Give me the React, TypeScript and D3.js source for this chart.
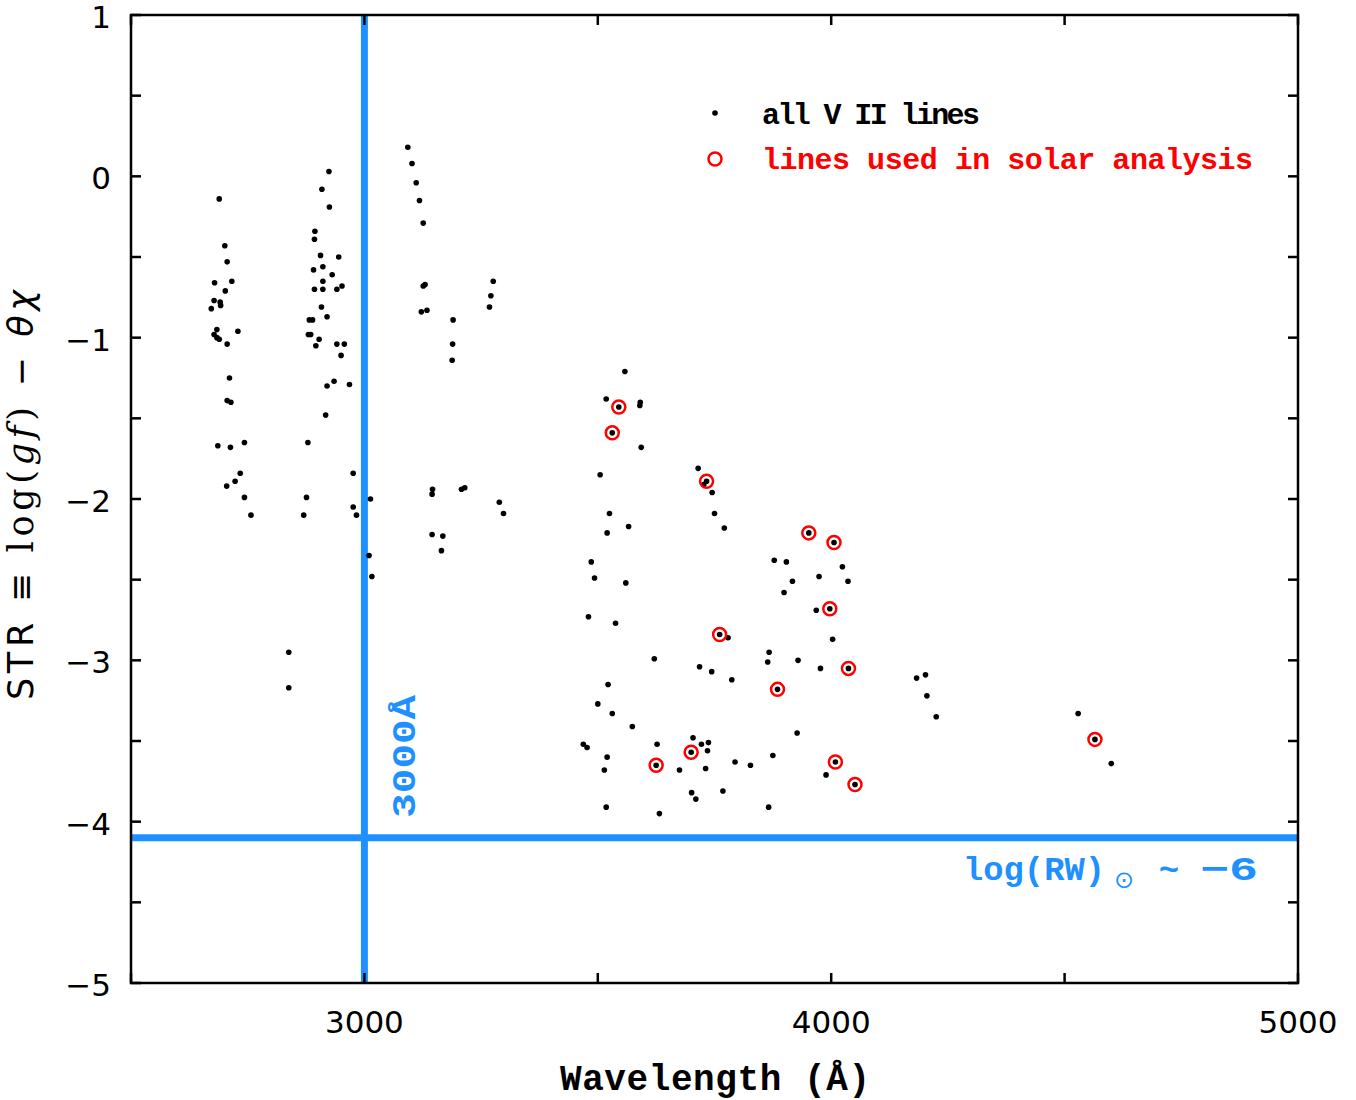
import React from "react";
import * as d3 from "d3";

// ---- data ----
const allWave = [
  2689, 2701, 2706, 2679, 2716, 2702, 2678, 2691, 2692, 2672, 2684, 2678, 2689, 2684, 2729, 2706, 2711, 2706, 2714, 2686, 2713, 2743, 2734, 2723, 2705, 2743, 2757,
  2924, 2909, 2925, 2894, 2893, 2906, 2945, 2891, 2911, 2931, 2911, 2893, 2911, 2941, 2952, 2908, 2920, 2882, 2889, 2880, 2885, 2903, 2896, 2941, 2957, 2950, 2935, 2920, 2968, 2917, 2879, 2976, 2876, 2870, 2976, 2983, 3013, 3010, 3016, 2838, 2838,
  3093, 3102, 3111, 3118, 3126, 3130, 3126, 3122, 3134, 3190, 3189, 3188, 3276, 3271, 3268, 3146, 3145, 3208, 3215, 3289, 3298, 3145, 3168, 3165,
  3558, 3518, 3545, 3591, 3590, 3531, 3593, 3505, 3525, 3566, 3520, 3486, 3493, 3560, 3715, 3733, 3727, 3745, 3750, 3771,
  3480, 3538, 3761, 3779, 3621, 3718, 3744, 3787, 3522, 3500, 3531, 3574, 3469, 3477, 3627, 3704, 3722, 3737, 3700, 3735, 3520, 3514, 3625, 3675, 3731, 3794, 3827, 3701, 3768, 3710, 3518, 3632,
  3952, 4006, 3878, 3904, 4024, 3917, 3974, 4036, 3899, 3968, 3997, 4003, 3867, 3864, 3929, 3977, 4037, 3885, 4183, 3927, 3875, 4009, 3989, 4051, 3866,
  4202, 4205, 4225, 4529, 4565, 4600,
];
const allStr = [
  -0.14, -0.43, -0.53, -0.66, -0.65, -0.71, -0.77, -0.78, -0.8, -0.82, -0.95, -0.98, -1.01, -1.0, -0.96, -1.04, -1.25, -1.39, -1.4, -1.67, -1.68, -1.65, -1.84, -1.89, -1.92, -1.99, -2.1,
  0.03, -0.08, -0.19, -0.34, -0.39, -0.49, -0.5, -0.58, -0.56, -0.61, -0.65, -0.7, -0.7, -0.7, -0.68, -0.81, -0.87, -0.89, -0.89, -0.98, -0.98, -1.01, -1.05, -1.04, -1.04, -1.11, -1.27, -1.3, -1.29, -1.48, -1.65, -1.84, -1.99, -2.1, -2.05, -2.1, -2.0, -2.35, -2.48, -2.95, -3.17,
  0.18, 0.08, -0.04, -0.15, -0.29, -0.67, -0.68, -0.84, -0.83, -0.89, -1.04, -1.14, -0.65, -0.74, -0.81, -1.94, -1.97, -1.94, -1.93, -2.02, -2.09, -2.22, -2.23, -2.32,
  -1.21, -1.38, -1.43, -1.4, -1.42, -1.59, -1.68, -1.85, -2.09, -2.17, -2.21, -2.39, -2.49, -2.52, -1.81, -1.89, -1.91, -1.96, -2.09, -2.18,
  -2.73, -2.77, -2.84, -2.86, -2.99, -3.04, -3.07, -3.12, -3.15, -3.27, -3.33, -3.41, -3.52, -3.54, -3.52, -3.48, -3.52, -3.51, -3.57, -3.56, -3.6, -3.68, -3.65, -3.68, -3.67, -3.63, -3.65, -3.82, -3.81, -3.86, -3.91, -3.95,
  -2.21, -2.27, -2.38, -2.39, -2.42, -2.51, -2.48, -2.51, -2.58, -2.69, -2.68, -2.87, -2.95, -3.01, -3.0, -3.05, -3.05, -3.18, -3.11, -3.45, -3.59, -3.63, -3.71, -3.77, -3.91,
  -3.09, -3.22, -3.35, -3.33, -3.49, -3.64,
];
const solarWave = [3545, 3531, 3733, 3761, 3700, 3625, 3952, 4006, 3997, 4037, 3885, 4009, 4051, 4565];
const solarStr = [-1.43, -1.59, -1.89, -2.84, -3.57, -3.65, -2.21, -2.27, -2.68, -3.05, -3.18, -3.63, -3.77, -3.49];

const xDomain = [2500, 5000];
const yDomain = [-5, 1];
const xLabelTicks = [3000, 4000, 5000];
const xAllTicks = [2500, 3000, 3500, 4000, 4500, 5000];
const yLabelTicks = [1, 0, -1, -2, -3, -4, -5];
const yAllTicks = [1, 0.5, 0, -0.5, -1, -1.5, -2, -2.5, -3, -3.5, -4, -4.5, -5];
const cutWave = 3000;
const cutStr = -4.1;

const BLUE = "#1e90ff";
const RED = "#ff0000";
const MONO = "'Liberation Mono', 'DejaVu Sans Mono', monospace";
const SANS = "'DejaVu Sans', sans-serif";

export default function App() {
  const L = 131, R = 1298, T = 15, B = 983;
  const x = d3.scaleLinear().domain(xDomain).range([L, R]);
  const y = d3.scaleLinear().domain(yDomain).range([B, T]);
  const tickLen = 10;
  const fmt = (v: number) => (v < 0 ? "\u2212" + Math.abs(v) : String(v));
  const rwY = y(cutStr) + 42;

  return (
    <svg width={1356} height={1100} style={{ position: "absolute", left: 0, top: 0, background: "#fff" }}>
      {/* reference lines */}
      <line x1={x(cutWave)} x2={x(cutWave)} y1={T} y2={B} stroke={BLUE} strokeWidth={7} />
      <line x1={L} x2={R} y1={y(cutStr)} y2={y(cutStr)} stroke={BLUE} strokeWidth={7} />
      <text transform={`translate(${x(cutWave) + 51},${y(cutStr) - 20}) rotate(-90)`} fill={BLUE}
        fontFamily={MONO} fontWeight="bold" fontSize={34} textLength={123} lengthAdjust="spacingAndGlyphs">3000Å</text>
      <text x={963} y={rwY} fill={BLUE} fontFamily={MONO} fontWeight="bold" fontSize={34} textLength={142} lengthAdjust="spacingAndGlyphs">log(RW)</text>
      <text x={1124} y={rwY + 8} fill={BLUE} fontFamily={SANS} fontSize={24} textAnchor="middle">⊙</text>
      <text x={1169} y={rwY} fill={BLUE} fontFamily={MONO} fontWeight="bold" fontSize={34} textAnchor="middle">~</text>
      <text x={1200} y={rwY} fill={BLUE} fontFamily={MONO} fontWeight="bold" fontSize={34} textLength={58} lengthAdjust="spacingAndGlyphs">−6</text>

      {/* points */}
      {allWave.map((w, i) => (
        <circle key={"a" + i} cx={x(w)} cy={y(allStr[i])} r={2.8} fill="#000" />
      ))}
      {solarWave.map((w, i) => (
        <circle key={"s" + i} cx={x(w)} cy={y(solarStr[i])} r={6.5} fill="none" stroke={RED} strokeWidth={2.5} />
      ))}

      {/* legend */}
      <circle cx={715} cy={113} r={2.8} fill="#000" />
      <text x={762} y={124} fontFamily={MONO} fontWeight="bold" fontSize={30} textLength={218}>all V II lines</text>
      <circle cx={715} cy={159} r={6.5} fill="none" stroke={RED} strokeWidth={2.5} />
      <text x={762} y={169} fill={RED} fontFamily={MONO} fontWeight="bold" fontSize={30} textLength={491}>lines used in solar analysis</text>

      {/* frame and ticks */}
      <rect x={L} y={T} width={R - L} height={B - T} fill="none" stroke="#000" strokeWidth={2.5} />
      {xAllTicks.map((t) => (
        <g key={"xt" + t}>
          <line x1={x(t)} x2={x(t)} y1={B} y2={B - tickLen} stroke="#000" strokeWidth={2.5} />
          <line x1={x(t)} x2={x(t)} y1={T} y2={T + tickLen} stroke="#000" strokeWidth={2.5} />
        </g>
      ))}
      {yAllTicks.map((t) => (
        <g key={"yt" + t}>
          <line x1={L} x2={L + tickLen} y1={y(t)} y2={y(t)} stroke="#000" strokeWidth={2.5} />
          <line x1={R} x2={R - tickLen} y1={y(t)} y2={y(t)} stroke="#000" strokeWidth={2.5} />
        </g>
      ))}
      {xLabelTicks.map((t) => (
        <text key={"xl" + t} x={x(t)} y={1033} textAnchor="middle" fontFamily={SANS} fontSize={31}>{t}</text>
      ))}
      {yLabelTicks.map((t) => (
        <text key={"yl" + t} x={111} y={y(t) + 13} textAnchor="end" fontFamily={SANS} fontSize={31}>{fmt(t)}</text>
      ))}

      {/* axis titles */}
      <text x={715} y={1090} textAnchor="middle" fontFamily={MONO} fontWeight="bold" fontSize={36} textLength={310}>Wavelength (Å)</text>
      <text transform={`translate(33,${700}) rotate(-90)`} fontFamily={SANS} fontSize={35} textLength={410} lengthAdjust="spacing">
        <tspan>STR ≡ </tspan>
        <tspan fontFamily="'DejaVu Serif', serif">log(</tspan>
        <tspan fontFamily="'DejaVu Serif', serif" fontStyle="italic">gf</tspan>
        <tspan fontFamily="'DejaVu Serif', serif">)</tspan>
        <tspan> − </tspan>
        <tspan fontStyle="italic">θχ</tspan>
      </text>
    </svg>
  );
}
